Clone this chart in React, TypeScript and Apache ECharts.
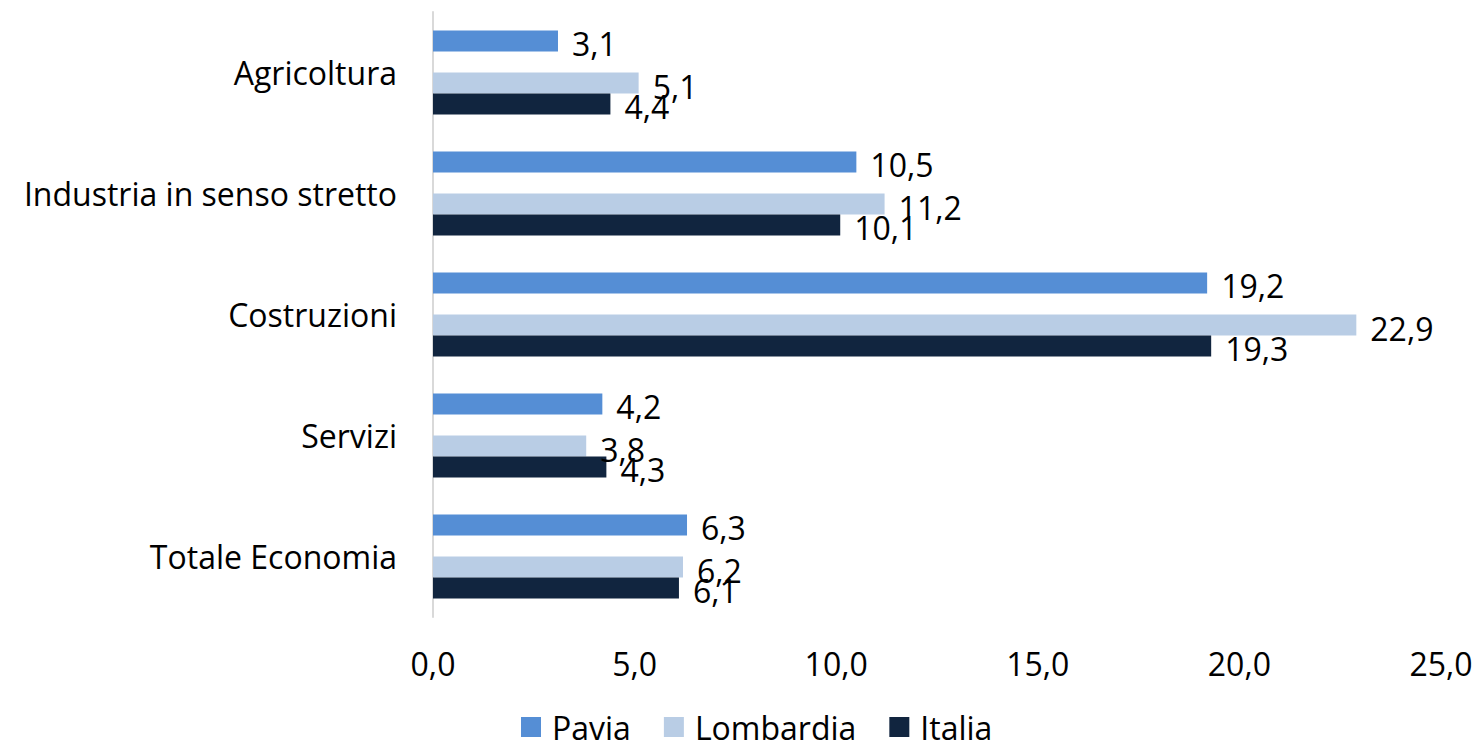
import React, { useEffect, useRef } from "react";
import * as echarts from "echarts";

const categories = ["Agricoltura", "Industria in senso stretto", "Costruzioni", "Servizi", "Totale Economia"];
const pavia = [3.1, 10.5, 19.2, 4.2, 6.3];
const lombardia = [5.1, 11.2, 22.9, 3.8, 6.2];
const italia = [4.4, 10.1, 19.3, 4.3, 6.1];
const xTicks = { min: 0, max: 25, interval: 5 };

const FONT = "Open Sans";
const FS = 32;
const fmt = (v: number) => v.toFixed(1).replace(".", ",");

export default function App() {
  const ref = useRef<HTMLDivElement>(null);
  useEffect(() => {
    const chart = echarts.init(ref.current!, null, { renderer: "svg" });
    const label = (dy: number) => ({
      show: true,
      position: "right" as const,
      distance: 14,
      offset: [0, dy],
      color: "#000",
      fontFamily: FONT,
      fontSize: FS,
      formatter: (p: any) => fmt(p.value),
    });
    chart.setOption({
      animation: false,
      textStyle: { fontFamily: FONT },
      grid: { left: 433, right: 35, top: 12, bottom: 131, containLabel: false },
      legend: {
        data: ["Pavia", "Lombardia", "Italia"],
        bottom: 0,
        left: 516,
        itemWidth: 20,
        itemHeight: 20,
        itemGap: 33,
        icon: "rect",
        textStyle: { fontFamily: FONT, fontSize: FS, color: "#000", padding: [0, 0, 0, 6] },
      },
      xAxis: {
        type: "value",
        min: xTicks.min,
        max: xTicks.max,
        interval: xTicks.interval,
        axisLine: { show: false },
        axisTick: { show: false },
        splitLine: { show: false },
        axisLabel: { color: "#000", fontFamily: FONT, fontSize: FS, margin: 30, formatter: (v: number) => fmt(v) },
      },
      yAxis: {
        type: "category",
        data: categories,
        inverse: true,
        axisLine: { show: true, lineStyle: { color: "#D9D9D9", width: 2 } },
        axisTick: { show: false },
        axisLabel: { color: "#000", fontFamily: FONT, fontSize: FS, margin: 36 },
      },
      series: [
        { name: "Pavia", type: "bar", data: pavia, barWidth: 21, barGap: "0%", itemStyle: { color: "#558ED5" }, label: label(2) },
        { name: "spacer", type: "bar", data: pavia.map(() => null), barWidth: 21, barGap: "0%" },
        { name: "Lombardia", type: "bar", data: lombardia, barWidth: 21, barGap: "0%", itemStyle: { color: "#B9CDE5" }, label: label(3) },
        { name: "Italia", type: "bar", data: italia, barWidth: 21, barGap: "0%", itemStyle: { color: "#11253F" }, label: label(2) },
      ],
    });
    return () => chart.dispose();
  }, []);
  return <div ref={ref} style={{ position: "fixed", left: 0, top: 0, width: 1476, height: 748, background: "#fff" }} />;
}
